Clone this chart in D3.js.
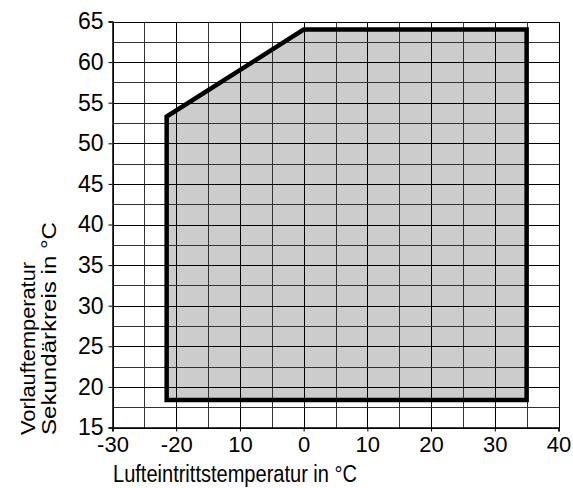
<!DOCTYPE html>
<html><head><meta charset="utf-8">
<script src="https://cdn.jsdelivr.net/npm/d3@7"></script>
<style>body{margin:0;background:#fff}</style>
</head><body>
<svg id="c" width="573" height="488"></svg>
<script>
const xTicks = [-30, -20, -10, 0, 10, 20, 30, 40];
const xTickLabels = ["-30", "-20", "10", "0", "10", "20", "30", "40"];
const yTicks = [15, 20, 25, 30, 35, 40, 45, 50, 55, 60, 65];
const xGrid = [-30,-25,-20,-15,-10,-5,0,5,10,15,20,25,30,35,40];
const yGrid = [15,17.5,20,22.5,25,27.5,30,32.5,35,37.5,40,42.5,45,47.5,50,52.5,55,57.5,60,62.5,65];
const envelopeX = [-21.5, -21.5, 0, 35, 35];
const envelopeY = [18.4, 53.3, 64, 64, 18.4];
const xTitle = "Lufteintrittstemperatur in °C";
const yTitle = ["Vorlauftemperatur", "Sekundärkreis in °C"];

const svg = d3.select("#c");
const x = d3.scaleLinear().domain([-30, 40]).range([112.5, 558.5]);
const y = d3.scaleLinear().domain([15, 65]).range([427.5, 21.5]);
const font = "Liberation Sans, Arial, sans-serif";

// envelope fill
const pts = envelopeX.map((v, i) => [x(v), y(envelopeY[i])]);
svg.append("polygon").attr("points", pts.map(p => p.join(",")).join(" "))
  .attr("fill", "#cccccc").attr("stroke", "none");

// grid
const g = svg.append("g").attr("shape-rendering", "crispEdges");
g.selectAll(".vx").data(xGrid).join("line")
  .attr("x1", d => Math.round(x(d)) + 0.5).attr("x2", d => Math.round(x(d)) + 0.5)
  .attr("y1", y(65)).attr("y2", y(15))
  .attr("stroke", d => d % 10 === 0 ? "#000" : "#333").attr("stroke-width", 1);
g.selectAll(".hy").data(yGrid).join("line")
  .attr("y1", d => Math.round(y(d)) + 0.5).attr("y2", d => Math.round(y(d)) + 0.5)
  .attr("x1", x(-30)).attr("x2", x(40))
  .attr("stroke", d => d % 5 === 0 ? "#000" : "#333").attr("stroke-width", 1);

// envelope outline
svg.append("polygon").attr("points", pts.map(p => p.join(",")).join(" "))
  .attr("fill", "none").attr("stroke", "#000").attr("stroke-width", 4.5)
  .attr("stroke-linejoin", "miter");

// axes
const xAxis = d3.axisBottom(x).tickValues(xTicks).tickSize(4).tickPadding(5)
  .tickFormat((d, i) => xTickLabels[i]);
const ax = svg.append("g").attr("transform", `translate(0,${y(15)})`).call(xAxis);
ax.attr("font-size", null).attr("font-family", null);
ax.select(".domain").attr("stroke-width", 1.5);
ax.selectAll("text").style("font-family", font).style("font-size", "22px").attr("fill", "#000");

const yAxis = d3.axisLeft(y).tickValues(yTicks).tickSize(4).tickPadding(5);
const ay = svg.append("g").attr("transform", `translate(${x(-30)},0)`).call(yAxis);
ay.attr("font-size", null).attr("font-family", null);
ay.select(".domain").attr("stroke-width", 1.5);
ay.selectAll("text").style("font-family", font).style("font-size", "23px").attr("fill", "#000");

// titles
svg.append("text").attr("x", 113).attr("y", 482).attr("text-anchor", "start")
  .style("font-family", font).style("font-size", "23px").attr("textLength", 244)
  .attr("lengthAdjust", "spacingAndGlyphs").text(xTitle);
const yLens = [173, 213];
yTitle.forEach((t, i) => {
  svg.append("text").attr("transform", `translate(${35 + i * 21},435) rotate(-90)`)
    .attr("text-anchor", "start").style("font-family", font).style("font-size", "21px")
    .attr("textLength", yLens[i]).attr("lengthAdjust", "spacingAndGlyphs").text(t);
});
</script>
</body></html>
